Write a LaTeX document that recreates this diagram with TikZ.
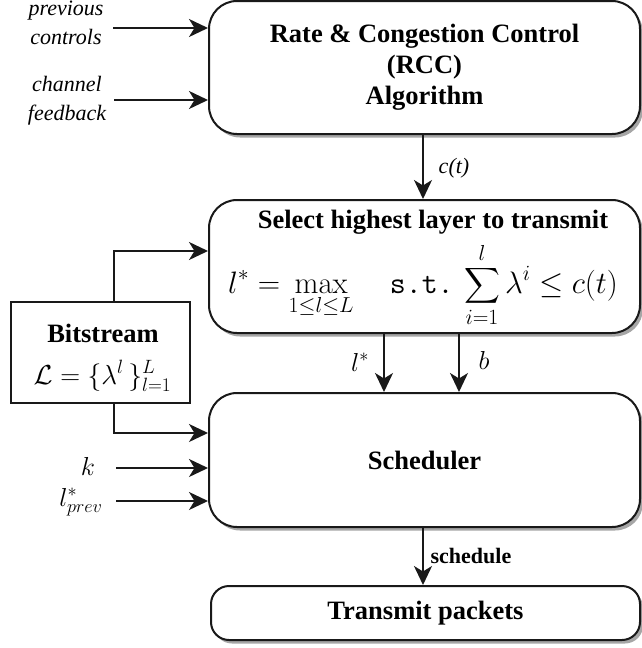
\RequirePackage{fix-cm}
\documentclass[tikz,border=0pt]{standalone}
\usepackage{amsmath}
\usepackage[no-math]{fontspec}
\setmainfont{Liberation Serif}
\setmonofont{Latin Modern Mono}
\usetikzlibrary{arrows.meta,shadows}

\begin{document}
\begin{tikzpicture}[x=1pt,y=-1pt,
  font=\fontsize{26}{31}\selectfont,
  box/.style={draw=black!90, line width=2pt, rounded corners=28pt, fill=white,
    drop shadow={shadow xshift=3pt, shadow yshift=-3.5pt, fill=black!35, opacity=1},
    font=\fontsize{26.5}{31}\selectfont\bfseries, align=center, inner sep=0pt},
  plainbox/.style={draw=black!90, line width=2pt, fill=white, inner sep=0pt},
  lab/.style={font=\fontsize{22}{29}\selectfont\itshape, align=center, inner sep=0pt},
  arr/.style={line width=1.9pt, draw=black!90,
    -{Stealth[length=19pt, width=18pt, inset=5.5pt]}},
]
\useasboundingbox (0,0) rectangle (641,648);

% main processing blocks
\node[box, minimum width=431pt, minimum height=133pt] (rcc) at (424.5,67.5)
  {Rate \& Congestion Control\\(RCC)\\Algorithm};
\node[box, minimum width=431pt, minimum height=133pt] (sel) at (424.5,266.5) {};
\node[font=\fontsize{26.5}{31}\selectfont\bfseries, inner sep=0pt] (seltitle) at (433,222)
  {Select highest layer to transmit};
\node[inner sep=0pt, font=\fontsize{31}{36}\selectfont] (selrule) at (423,285)
  {$\displaystyle l^* = \max_{1\le l\le L}\quad \texttt{s.t.}\,\sum_{i=1}^{l}\lambda^i \le c(t)$};
\node[box, minimum width=431pt, minimum height=134pt] (sch) at (424.5,460) {Scheduler};
\node[box, rounded corners=18pt, minimum width=429pt, minimum height=54pt] (tx) at (425.5,613)
  {Transmit packets};

% bitstream source
\node[plainbox, minimum width=179pt, minimum height=101pt] (bs) at (100.5,352.5) {};
\node[font=\fontsize{26.5}{31}\selectfont\bfseries, inner sep=0pt] (bstitle) at (103,333) {Bitstream};
\node[inner sep=0pt, font=\fontsize{27.5}{33}\selectfont] (bsset) at (102.5,376)
  {$\displaystyle \mathcal{L} = \{\lambda^l\,\}_{l=1}^{L}$};

% external inputs
\node[lab] (pc) at (66,23) {previous\\controls};
\node[lab] (cf) at (67,101) {channel\\feedback};
\node[inner sep=0pt] (klab) at (88,466) {$k$};
\node[inner sep=0pt] (lplab) at (81,502) {$l^*_{prev}$};
\coordinate (pcin) at (113,28);
\coordinate (cfin) at (114,100);
\coordinate (kin) at (116,468);
\coordinate (lpin) at (116,501);

\draw[arr] (pcin) -- (pcin -| rcc.west);
\draw[arr] (cfin) -- (cfin -| rcc.west);
\draw[arr] (kin) -- (kin -| sch.west);
\draw[arr] (lpin) -- (lpin -| sch.west);

% bitstream feeds
\draw[arr] ([xshift=13.5pt]bs.north) |- ([yshift=15.5pt]sel.west);
\draw[arr] ([xshift=13.5pt]bs.south) |- ([yshift=27pt]sch.west);

% flow between blocks
\draw[arr] ([xshift=-1.5pt]rcc.south) -- ([xshift=-1.5pt]sel.north);
\node[lab] (ctlab) at (454,168) {c(t)};
\draw[arr] ([xshift=-40.5pt]sel.south) -- ([xshift=-40.5pt]sch.north);
\draw[arr] ([xshift=34.5pt]sel.south) -- ([xshift=34.5pt]sch.north);
\node[inner sep=0pt] (lslab) at (360,362) {$l^*$};
\node[inner sep=0pt] (blab) at (484,360) {$b$};
\draw[arr] ([xshift=-1.5pt]sch.south) -- ([xshift=-1.5pt]sch.south |- tx.north);
\node[font=\fontsize{22}{26}\selectfont\bfseries, inner sep=0pt] (schlab) at (471,556) {schedule};
\end{tikzpicture}
\end{document}
